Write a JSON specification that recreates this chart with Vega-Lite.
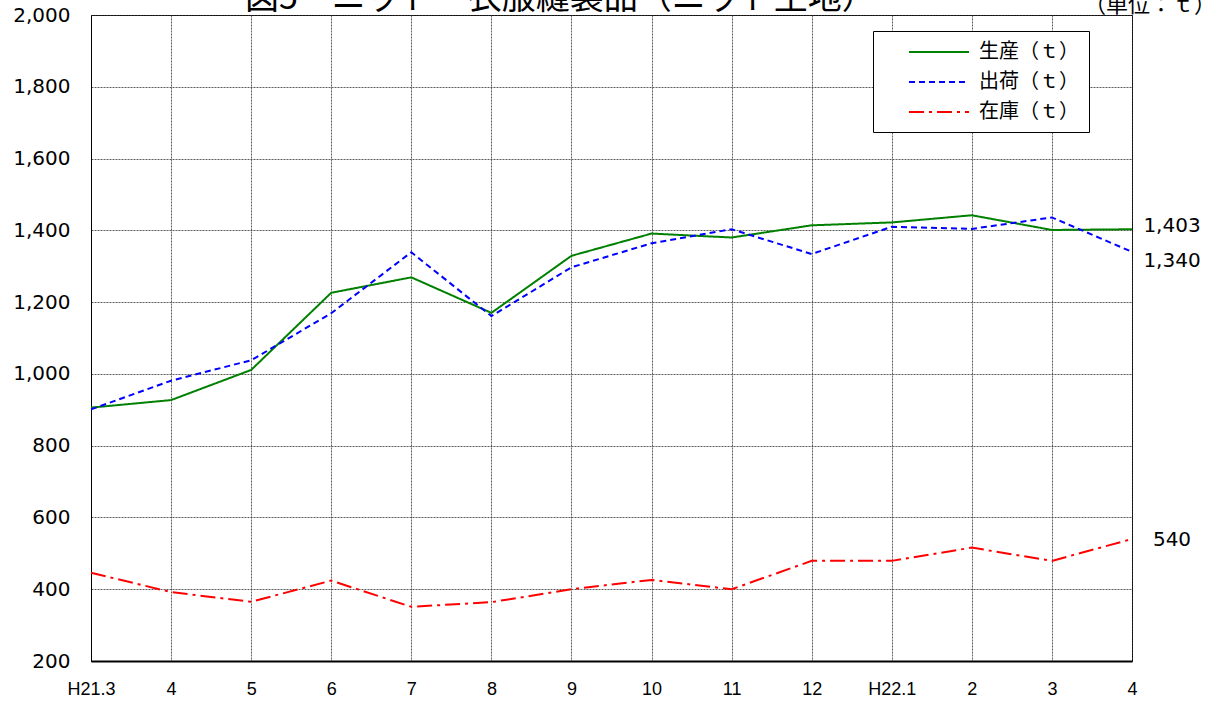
{
  "$schema": "https://vega.github.io/schema/vega-lite/v6.json",
  "width": 1041,
  "height": 646,
  "autosize": {"type": "none"},
  "padding": {"left": 91, "top": 15, "right": 87, "bottom": 48},
  "background": "white",
  "title": {
    "text": "図5　ニット　衣服縫製品（ニット生地）",
    "anchor": "start",
    "frame": "group",
    "dx": 154,
    "dy": 24,
    "offset": 2,
    "fontSize": 34,
    "font": "Noto Sans CJK JP",
    "fontWeight": "normal",
    "color": "black"
  },
  "data": {
    "values": [
      {"month": "H21.3", "生産（ｔ）": 906, "出荷（ｔ）": 901, "在庫（ｔ）": 446},
      {"month": "H21.4", "生産（ｔ）": 927, "出荷（ｔ）": 981, "在庫（ｔ）": 392},
      {"month": "H21.5", "生産（ｔ）": 1011, "出荷（ｔ）": 1038, "在庫（ｔ）": 365},
      {"month": "H21.6", "生産（ｔ）": 1226, "出荷（ｔ）": 1169, "在庫（ｔ）": 424},
      {"month": "H21.7", "生産（ｔ）": 1269, "出荷（ｔ）": 1339, "在庫（ｔ）": 351},
      {"month": "H21.8", "生産（ｔ）": 1170, "出荷（ｔ）": 1161, "在庫（ｔ）": 364},
      {"month": "H21.9", "生産（ｔ）": 1329, "出荷（ｔ）": 1297, "在庫（ｔ）": 400},
      {"month": "H21.10", "生産（ｔ）": 1391, "出荷（ｔ）": 1364, "在庫（ｔ）": 426},
      {"month": "H21.11", "生産（ｔ）": 1380, "出荷（ｔ）": 1403, "在庫（ｔ）": 400},
      {"month": "H21.12", "生産（ｔ）": 1414, "出荷（ｔ）": 1334, "在庫（ｔ）": 479},
      {"month": "H22.1", "生産（ｔ）": 1422, "出荷（ｔ）": 1410, "在庫（ｔ）": 479},
      {"month": "H22.2", "生産（ｔ）": 1442, "出荷（ｔ）": 1404, "在庫（ｔ）": 516},
      {"month": "H22.3", "生産（ｔ）": 1401, "出荷（ｔ）": 1436, "在庫（ｔ）": 479},
      {"month": "H22.4", "生産（ｔ）": 1403, "出荷（ｔ）": 1340, "在庫（ｔ）": 540}
    ]
  },
  "transform": [
    {"fold": ["生産（ｔ）", "出荷（ｔ）", "在庫（ｔ）"], "as": ["series", "value"]}
  ],
  "encoding": {
    "x": {
      "field": "month",
      "type": "ordinal",
      "sort": null,
      "scale": {"type": "point", "padding": 0},
      "axis": {
        "title": null,
        "labelAngle": 0,
        "labelExpr": "datum.value == 'H21.3' || datum.value == 'H22.1' ? datum.value : split(datum.value, '.')[1]",
        "labelFont": "Liberation Sans",
        "labelFontSize": 18,
        "labelColor": "black",
        "labelPadding": 19,
        "ticks": false,
        "domainColor": "black",
        "domainWidth": 2,
        "grid": true,
        "gridColor": "#333333",
        "gridDash": [2, 1],
        "gridWidth": 1,
        "gridOpacity": 0.8
      }
    },
    "y": {
      "field": "value",
      "type": "quantitative",
      "scale": {"domain": [200, 2000], "nice": false, "zero": false},
      "axis": {
        "title": null,
        "values": [200, 400, 600, 800, 1000, 1200, 1400, 1600, 1800, 2000],
        "format": ",.0f",
        "labelFont": "DejaVu Sans",
        "labelFontSize": 20,
        "labelColor": "black",
        "labelPadding": 21,
        "ticks": false,
        "domainColor": "black",
        "domainWidth": 1,
        "grid": true,
        "gridColor": "#333333",
        "gridDash": [2, 1],
        "gridWidth": 1,
        "gridOpacity": 0.8
      }
    }
  },
  "layer": [
    {
      "mark": {"type": "line", "strokeWidth": 2},
      "encoding": {
        "color": {
          "field": "series",
          "type": "nominal",
          "scale": {"domain": ["生産（ｔ）", "出荷（ｔ）", "在庫（ｔ）"], "range": ["#008000", "#0000ff", "#ff0000"]},
          "legend": {"title": null, "labelExpr": "datum.label + '　  '"}
        },
        "strokeDash": {
          "field": "series",
          "type": "nominal",
          "scale": {"domain": ["生産（ｔ）", "出荷（ｔ）", "在庫（ｔ）"], "range": [[1, 0], [6, 4], [15, 5, 3, 5]]},
          "legend": {"title": null, "labelExpr": "datum.label + '　  '"}
        }
      }
    },
    {
      "transform": [{"filter": "datum.month == 'H22.4' && datum.series == '生産（ｔ）'"}],
      "mark": {"type": "text", "dx": 40, "dy": -3, "align": "center", "baseline": "middle", "font": "DejaVu Sans", "fontSize": 20, "color": "black"},
      "encoding": {"text": {"field": "value", "type": "quantitative", "format": ","}}
    },
    {
      "transform": [{"filter": "datum.month == 'H22.4' && datum.series == '出荷（ｔ）'"}],
      "mark": {"type": "text", "dx": 40, "dy": 9, "align": "center", "baseline": "middle", "font": "DejaVu Sans", "fontSize": 20, "color": "black"},
      "encoding": {"text": {"field": "value", "type": "quantitative", "format": ","}}
    },
    {
      "transform": [{"filter": "datum.month == 'H22.4' && datum.series == '在庫（ｔ）'"}],
      "mark": {"type": "text", "dx": 40, "dy": 1, "align": "center", "baseline": "middle", "font": "DejaVu Sans", "fontSize": 20, "color": "black"},
      "encoding": {"text": {"field": "value", "type": "quantitative", "format": ","}}
    },
    {
      "transform": [{"filter": "datum.month == 'H22.4' && datum.series == '在庫（ｔ）'"}],
      "mark": {"type": "text", "text": "（単位：ｔ）", "dx": 84, "dy": -3, "align": "right", "baseline": "alphabetic", "font": "Noto Sans CJK JP", "fontSize": 22, "color": "black"},
      "encoding": {
        "y": {"datum": 2000}
      }
    }
  ],
  "config": {
    "view": {"stroke": "black", "strokeWidth": 1},
    "legend": {
      "orient": "none",
      "legendX": 782,
      "legendY": 16,
      "direction": "vertical",
      "padding": 10,
      "strokeColor": "black",
      "fillColor": "white",
      "cornerRadius": 0,
      "symbolType": "M-3,0H3",
      "symbolSize": 400,
      "symbolStrokeWidth": 2,
      "symbolOffset": 45,
      "labelOffset": 29,
      "labelFont": "Noto Sans CJK JP",
      "labelFontSize": 20,
      "labelColor": "black",
      "rowPadding": 9
    }
  }
}
